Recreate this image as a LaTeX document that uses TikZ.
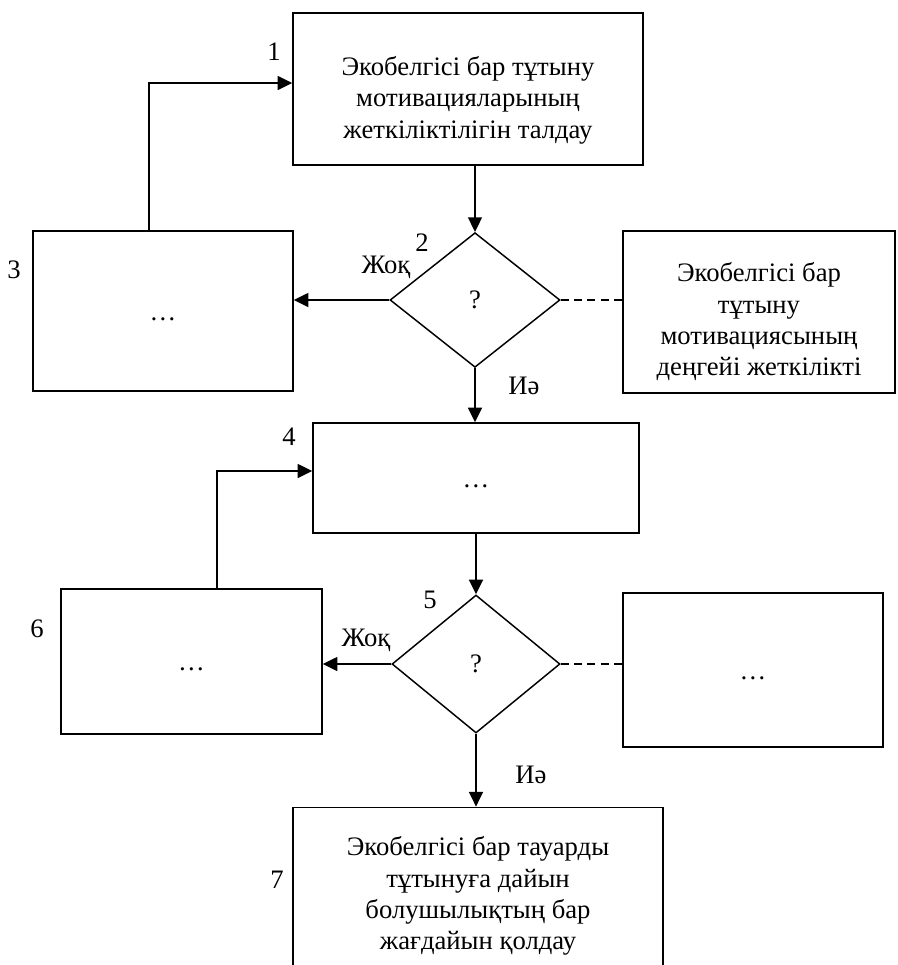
\documentclass[tikz,border=0pt]{standalone}
\usepackage{fontspec}
\setmainfont{Liberation Serif}
\usepackage{tikz}
\usetikzlibrary{calc,arrows.meta,shapes.geometric}
\newcommand{\topgap}[1]{\rule{0pt}{#1}}
\tikzset{
  lab/.style={font=\fontsize{20}{23.5}\selectfont, align=center},
  num/.style={font=\fontsize{20}{23.5}\selectfont},
  box/.style={draw, line width=1.1pt, inner sep=0pt, lab},
  dots/.style={box, text height=13.5pt, text depth=0pt},
  cond/.style={draw, diamond, line width=1.1pt, inner sep=0pt, lab},
  arr/.style={line width=1.1pt, -{Triangle[length=11pt,width=10.5pt]}},
  link/.style={line width=1.1pt, dash pattern=on 6pt off 4pt}
}

\begin{document}
\begin{tikzpicture}[x=0.75pt, y=-0.75pt]
\useasboundingbox (0,0) rectangle (898,965);
% upper part
\node[box, minimum width=262.5pt, minimum height=114pt] (b1) at (468,89)
  {\topgap{31pt}Экобелгісі бар тұтыну\\мотивацияларының\\жеткіліктілігін талдау};
\node[cond, minimum width=127.5pt, minimum height=101pt] (d2) at (475,300) {?};
\node[dots, minimum width=195pt, minimum height=120pt] (b3) at (163,311) {…};
\node[box, minimum width=204pt, minimum height=121.5pt] (s2) at (759,312)
  {\topgap{29pt}Экобелгісі бар\\тұтыну\\мотивациясының\\деңгейі жеткілікті};
\node[num] (n1) at (274,52) {1};
\node[num] (n2) at (422,243) {2};
\node[num] (n3) at (14,270) {3};
\node[num] (no2) at (386,267) {Жоқ};
\node[num] (yes2) at (524,386) {Иә};

% lower part
\node[dots, minimum width=244.5pt, minimum height=82.5pt] (b4) at (476,478) {…};
\node[cond, minimum width=126pt, minimum height=103.5pt] (d5) at (476,664) {?};
\node[dots, minimum width=195.75pt, minimum height=108.75pt] (b6) at (191.5,661.5) {…};
\node[dots, minimum width=195pt, minimum height=115.5pt] (s5) at (753,670) {…};
\node[box, minimum width=277.5pt, minimum height=133pt] (b7) at (478,896)
  {Экобелгісі бар тауарды\\тұтынуға дайын\\болушылықтың бар\\жағдайын қолдау};
\node[num] (n4) at (289,437) {4};
\node[num] (n5) at (430,600) {5};
\node[num] (n6) at (37,629) {6};
\node[num] (n7) at (277,880) {7};
\node[num] (no5) at (366,640) {Жоқ};
\node[num] (yes5) at (531,775) {Иә};

% connectors
\draw[arr] (d2.north |- b1.south) -- (d2.north);
\draw[arr] (d2.west) -- (d2.west -| b3.east);
\draw[link] (d2.east) -- (d2.east -| s2.west);
\draw[arr] (d2.south) -- (d2.south |- b4.north);
\draw[arr] ([xshift=-10.5pt]b3.north) |- ([yshift=4.5pt]b1.west);
\draw[arr] (d5.north |- b4.south) -- (d5.north);
\draw[arr] (d5.west) -- (d5.west -| b6.east);
\draw[link] (d5.east) -- (d5.east -| s5.west);
\draw[arr] (d5.south) -- (d5.south |- b7.north);
\draw[arr] ([xshift=19pt]b6.north) |- ([yshift=5.25pt]b4.west);
\end{tikzpicture}
\end{document}
